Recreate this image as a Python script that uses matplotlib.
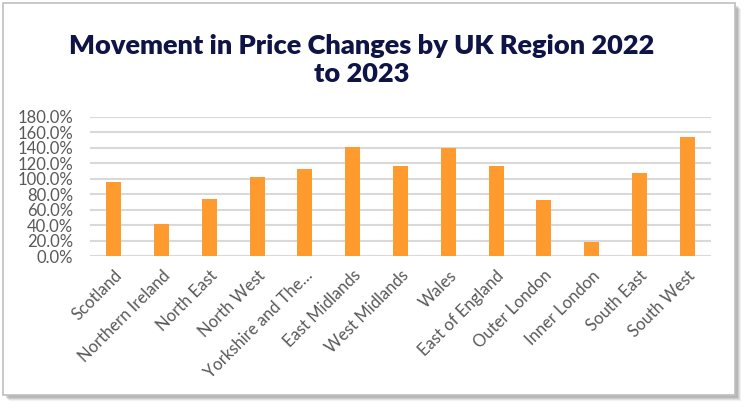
import numpy as np
import matplotlib
matplotlib.use("Agg")
import matplotlib.pyplot as plt
from matplotlib.patches import Rectangle
from matplotlib.ticker import PercentFormatter

# Data
regions = ["Scotland", "Northern Ireland", "North East", "North West",
           "Yorkshire and The\u2026", "East Midlands", "West Midlands", "Wales",
           "East of England", "Outer London", "Inner London", "South East",
           "South West"]
change_pct = [95.4, 41.2, 73.9, 102.2, 112.6, 140.9, 116.4, 139.6,
              116.4, 72.6, 18.5, 107.4, 153.8]
y_ticks = [0, 20, 40, 60, 80, 100, 120, 140, 160, 180]

title = "Movement in Price Changes by UK Region 2022\nto 2023"

plt.rcParams['font.family'] = ['Lato', 'DejaVu Sans']

W, H = 747, 408
fig = plt.figure(figsize=(W / 100, H / 100), dpi=100)
fig.patch.set_facecolor("white")

# chart frame with a soft drop shadow
def px(x0, y0, x1, y1):
    return (x0 / W, 1 - y1 / H), (x1 - x0) / W, (y1 - y0) / H

for off, a in [(6, 0.10), (5, 0.15), (4, 0.20), (3, 0.25)]:
    xy, w, h = px(3 + off, 3 + off, 735 + off, 395 + off)
    fig.patches.append(Rectangle(xy, w, h, transform=fig.transFigure,
                                 facecolor="#7f7f7f", alpha=a, edgecolor="none", zorder=0))
xy, w, h = px(3, 3, 735, 395)
fig.patches.append(Rectangle(xy, w, h, transform=fig.transFigure,
                             facecolor="white", edgecolor="#BFBFBF", lw=1.2, zorder=1))

ax = fig.add_axes([90 / W, 1 - 256.3 / H, (711 - 90) / W, (256.3 - 116.7) / H])
ax.set_facecolor("none")
ax.set_zorder(2)

x = np.arange(len(regions))
ax.bar(x, change_pct, width=0.313, color="#FF9A2E", zorder=3)

ax.set_xlim(-0.5, len(regions) - 0.5)
ax.set_ylim(0, 180)
ax.set_yticks(y_ticks)
ax.yaxis.set_major_formatter(PercentFormatter(decimals=1))
ax.grid(axis="y", color="#D9D9D9", lw=1.5, zorder=0)
ax.set_axisbelow(True)
for s in ax.spines.values():
    s.set_visible(False)

ax.set_xticks(x)
ax.set_xticklabels(regions, rotation=45, ha="right", rotation_mode="anchor")
ax.tick_params(axis="both", length=0, colors="#595959")
ax.tick_params(axis="x", pad=8, labelsize=12)
ax.tick_params(axis="y", pad=12, labelsize=12)

fig.text(362 / W, 1 - 60 / H, title, ha="center", va="center", fontsize=19.5,
         fontweight="heavy", color="#0E1446", linespacing=1.2, zorder=5)

fig.savefig("out.png", dpi=100)
